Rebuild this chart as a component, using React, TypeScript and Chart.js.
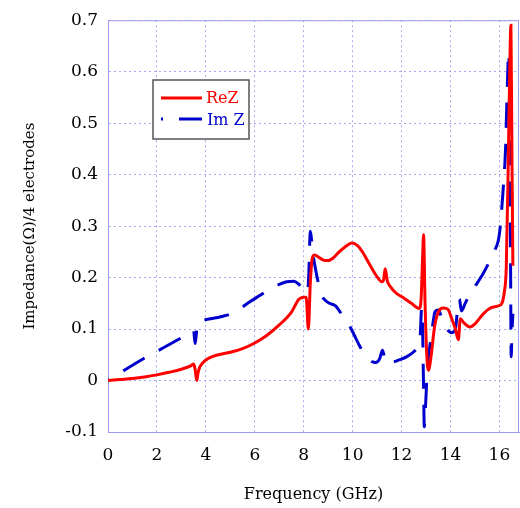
import React, { useEffect, useRef } from "react";
import { Chart, registerables } from "chart.js";

Chart.register(...registerables);

// Frequency (GHz) and real part of impedance
const reFreq = [0, 0.5, 1, 1.5, 2, 2.5, 3, 3.4, 3.5, 3.56, 3.63, 3.68, 3.75, 3.85, 4.0, 4.3, 4.7, 5.0, 5.5, 6.0, 6.5, 7.0, 7.5, 7.8, 8.0, 8.1, 8.19, 8.27, 8.35, 8.45, 8.6, 8.8, 9.0, 9.2, 9.45, 9.7, 9.97, 10.2, 10.4, 10.7, 10.95, 11.19, 11.26, 11.33, 11.42, 11.55, 11.75, 12.1, 12.4, 12.72, 12.8, 12.86, 12.9, 12.96, 13.03, 13.1, 13.2, 13.35, 13.5, 13.7, 13.9, 14.05, 14.2, 14.32, 14.4, 14.55, 14.8, 15.0, 15.35, 15.6, 15.95, 16.1, 16.2, 16.28, 16.36, 16.42, 16.47, 16.51, 16.55];
const reZ = [0, 0.002, 0.004, 0.007, 0.011, 0.016, 0.022, 0.029, 0.032, 0.022, 0.0, 0.015, 0.026, 0.033, 0.04, 0.047, 0.052, 0.055, 0.062, 0.073, 0.088, 0.108, 0.133, 0.158, 0.162, 0.162, 0.1, 0.19, 0.238, 0.244, 0.24, 0.234, 0.233, 0.238, 0.25, 0.26, 0.267, 0.262, 0.25, 0.225, 0.205, 0.192, 0.195, 0.217, 0.193, 0.182, 0.171, 0.16, 0.15, 0.14, 0.16, 0.24, 0.283, 0.15, 0.05, 0.02, 0.045, 0.105, 0.133, 0.141, 0.138, 0.12, 0.1, 0.079, 0.12, 0.112, 0.104, 0.11, 0.13, 0.14, 0.145, 0.15, 0.172, 0.22, 0.42, 0.6, 0.69, 0.45, 0.223];

// Frequency (GHz) and imaginary part of impedance
const imFreq = [0, 0.7, 1.5, 2.2, 3.0, 3.4, 3.5, 3.56, 3.6, 3.66, 3.8, 4.2, 4.7, 5.1, 5.5, 5.8, 6.2, 6.6, 7.0, 7.3, 7.6, 7.8, 7.95, 8.08, 8.16, 8.21, 8.27, 8.33, 8.4, 8.5, 8.62, 8.74, 8.9, 9.05, 9.3, 9.6, 9.9, 10.2, 10.5, 10.78, 10.95, 11.1, 11.22, 11.3, 11.4, 11.6, 11.9, 12.2, 12.5, 12.65, 12.76, 12.82, 12.86, 12.9, 12.93, 12.98, 13.05, 13.15, 13.25, 13.37, 13.5, 13.7, 13.9, 14.05, 14.2, 14.3, 14.36, 14.45, 14.6, 14.8, 15.0, 15.3, 15.6, 15.8, 16.0, 16.15, 16.25, 16.31, 16.38, 16.42, 16.45, 16.48, 16.51, 16.55];
const imZ = [0, 0.021, 0.044, 0.062, 0.083, 0.094, 0.097, 0.072, 0.085, 0.112, 0.117, 0.12, 0.125, 0.131, 0.143, 0.153, 0.165, 0.177, 0.187, 0.192, 0.193, 0.187, 0.18, 0.18, 0.172, 0.21, 0.29, 0.27, 0.24, 0.212, 0.185, 0.165, 0.155, 0.15, 0.145, 0.125, 0.104, 0.075, 0.05, 0.037, 0.035, 0.042, 0.059, 0.045, 0.033, 0.035, 0.04, 0.046, 0.056, 0.065, 0.085, 0.14, 0.1, -0.02, -0.09, -0.05, 0.02, 0.065, 0.1, 0.134, 0.137, 0.113, 0.097, 0.093, 0.1, 0.145, 0.158, 0.135, 0.15, 0.168, 0.183, 0.205, 0.232, 0.252, 0.285, 0.37, 0.45, 0.55, 0.638, 0.48, 0.28, 0.046, 0.09, 0.13];

const xTicks = [0, 2, 4, 6, 8, 10, 12, 14, 16];
const yTicks = [-0.1, 0, 0.1, 0.2, 0.3, 0.4, 0.5, 0.6, 0.7];

const seriesNames = ["ReZ", "Im Z"];
const RED = "#ff0000";
const BLUE = "#0000cc";
const FONT = "'DejaVu Serif', serif";
const IM_DASH = [25, 16];
const IM_DASH_OFFSET = 23;

const framePlugin = {
  id: "frame",
  afterDraw(chart: any) {
    const { ctx, chartArea } = chart;
    ctx.save();
    ctx.strokeStyle = "#9a9aee";
    ctx.lineWidth = 1;
    ctx.beginPath();
    ctx.moveTo(chartArea.left, chartArea.top + 0.5);
    ctx.lineTo(chartArea.right, chartArea.top + 0.5);
    ctx.moveTo(chartArea.right - 0.5, chartArea.top);
    ctx.lineTo(chartArea.right - 0.5, chartArea.bottom);
    ctx.stroke();
    ctx.restore();
  },
};

const legendPlugin = {
  id: "boxLegend",
  afterDraw(chart: any) {
    const { ctx } = chart;
    const bx = 153, by = 80, bw = 96, bh = 59;
    ctx.save();
    ctx.fillStyle = "#ffffff";
    ctx.fillRect(bx, by, bw, bh);
    ctx.strokeStyle = "#555555";
    ctx.lineWidth = 1.5;
    ctx.strokeRect(bx, by, bw, bh);
    ctx.lineWidth = 3;
    // ReZ
    ctx.strokeStyle = RED;
    ctx.beginPath();
    ctx.moveTo(161, 98);
    ctx.lineTo(202, 98);
    ctx.stroke();
    // Im Z
    ctx.strokeStyle = BLUE;
    ctx.setLineDash(IM_DASH);
    ctx.lineDashOffset = IM_DASH_OFFSET;
    ctx.beginPath();
    ctx.moveTo(161, 119);
    ctx.lineTo(202, 119);
    ctx.stroke();
    ctx.setLineDash([]);
    ctx.font = `16px ${FONT}`;
    ctx.textBaseline = "middle";
    ctx.textAlign = "left";
    ctx.fillStyle = RED;
    ctx.fillText(seriesNames[0], 206, 99);
    ctx.fillStyle = BLUE;
    ctx.fillText(seriesNames[1], 207, 121);
    ctx.restore();
  },
};

export default function App() {
  const canvasRef = useRef<HTMLCanvasElement | null>(null);

  useEffect(() => {
    const canvas = canvasRef.current;
    if (!canvas) return;
    const chart = new Chart(canvas, {
      type: "line",
      data: {
        datasets: [
          {
            label: seriesNames[0],
            data: reFreq.map((x, i) => ({ x, y: reZ[i] })),
            borderColor: RED,
            backgroundColor: RED,
            borderWidth: 3,
            pointRadius: 0,
            cubicInterpolationMode: "monotone",
          },
          {
            label: seriesNames[1],
            data: imFreq.map((x, i) => ({ x, y: imZ[i] })),
            borderColor: BLUE,
            backgroundColor: BLUE,
            borderWidth: 3,
            borderDash: IM_DASH,
            borderDashOffset: IM_DASH_OFFSET,
            pointRadius: 0,
            cubicInterpolationMode: "monotone",
          },
        ],
      },
      options: {
        animation: false,
        responsive: false,
        maintainAspectRatio: false,
        layout: { padding: { top: 16, right: 1, left: 0, bottom: 0 } },
        plugins: {
          legend: { display: false },
          tooltip: { enabled: false },
        },
        scales: {
          x: {
            type: "linear",
            min: 0,
            max: 16.8,
            afterBuildTicks: (axis: any) => {
              axis.ticks = xTicks.map((v) => ({ value: v }));
            },
            afterFit: (axis: any) => {
              axis.height = 76;
              axis.paddingRight = 0;
              axis.paddingLeft = 0;
            },
            ticks: {
              color: "#000",
              font: { family: FONT, size: 17 },
              padding: 13,
              maxRotation: 0,
              includeBounds: false,
            },
            grid: { color: "#a8a8f0", drawTicks: false, lineWidth: 1 },
            border: { color: "#9a9aee", width: 1, dash: [2, 3] },
            title: {
              display: true,
              text: "Frequency (GHz)",
              color: "#000",
              font: { family: FONT, size: 16 },
              padding: { top: 0, bottom: 4 },
            },
          },
          y: {
            type: "linear",
            min: -0.1,
            max: 0.7,
            afterBuildTicks: (axis: any) => {
              axis.ticks = yTicks.map((v) => ({ value: v }));
            },
            afterFit: (axis: any) => {
              axis.width = 108;
            },
            ticks: {
              color: "#000",
              font: { family: FONT, size: 17 },
              padding: 10,
              callback: (v: any) => (Math.abs(Number(v)) < 1e-9 ? "0" : Number(v).toFixed(1)),
            },
            grid: { color: "#a8a8f0", drawTicks: false, lineWidth: 1 },
            border: { color: "#9a9aee", width: 1, dash: [2, 3] },
            title: {
              display: true,
              text: "Impedance(Ω)/4 electrodes",
              color: "#000",
              font: { family: FONT, size: 15 },
              padding: { top: 21, bottom: 0 },
            },
          },
        },
      } as any,
      plugins: [framePlugin, legendPlugin],
    });
    return () => chart.destroy();
  }, []);

  return (
    <div style={{ position: "fixed", left: 0, top: 0, width: 520, height: 508, background: "#fff" }}>
      <canvas ref={canvasRef} width={520} height={508} style={{ width: 520, height: 508, display: "block" }} />
    </div>
  );
}
